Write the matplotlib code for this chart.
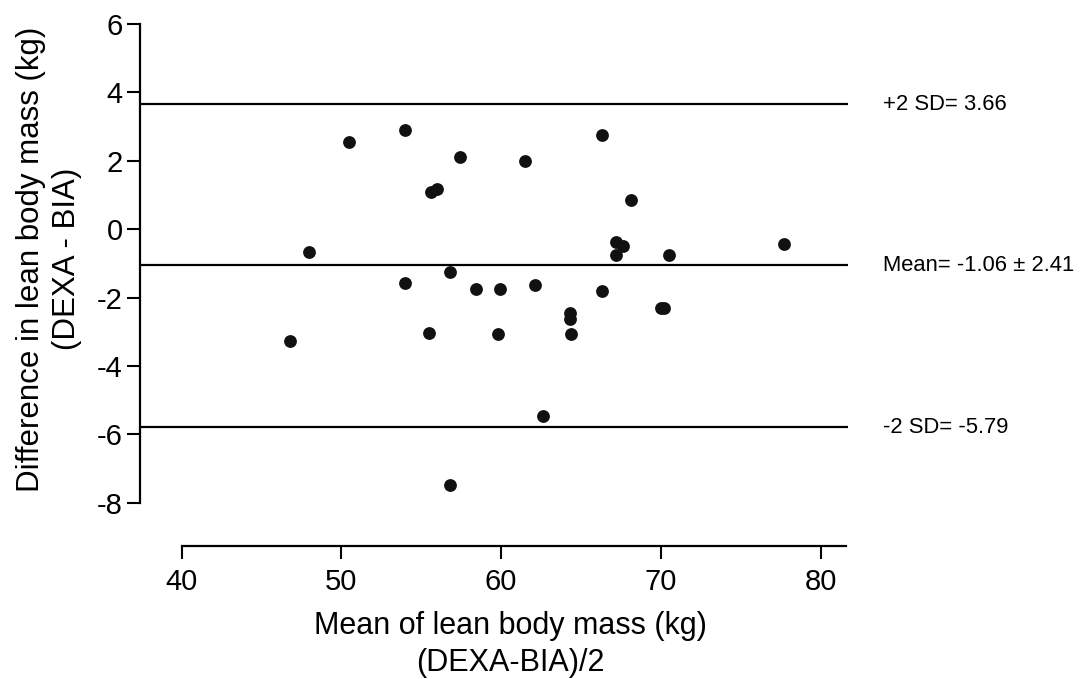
import matplotlib
matplotlib.use("Agg")
import matplotlib.pyplot as plt
import matplotlib.transforms as mtransforms

plt.rcParams['font.family'] = ['Liberation Sans', 'DejaVu Sans']
plt.rcParams['axes.unicode_minus'] = False

# mean of the two methods (kg) and their difference DEXA - BIA (kg)
mean_lbm = [46.8, 48.0, 50.5, 54.0, 57.4, 55.6, 56.0, 61.5, 66.3, 68.1,
            67.2, 67.6, 67.2, 70.5, 77.7, 56.8, 54.0, 58.4, 59.9, 62.1,
            66.3, 70.0, 70.2, 64.3, 64.3, 55.5, 59.8, 64.4, 62.6, 56.8]
diff_lbm = [-3.27, -0.66, 2.55, 2.91, 2.10, 1.09, 1.19, 1.98, 2.74, 0.85,
            -0.36, -0.49, -0.75, -0.74, -0.44, -1.25, -1.58, -1.76, -1.75, -1.62,
            -1.80, -2.30, -2.30, -2.45, -2.61, -3.04, -3.05, -3.07, -5.47, -7.47]

mean_diff = -1.06
sd_diff = 2.41
upper_loa = 3.66
lower_loa = -5.79

x_ticks = [40, 50, 60, 70, 80]
y_ticks = [-8, -6, -4, -2, 0, 2, 4, 6]

W, H = 1087, 679
fig = plt.figure(figsize=(W / 100, H / 100), dpi=100)
ax = fig.add_axes([0.1288, 0.1959, 0.6513, 0.7688])

ax.scatter(mean_lbm, diff_lbm, s=85, color='#111111', zorder=3, linewidths=0)

for val in (upper_loa, mean_diff, lower_loa):
    ax.axhline(val, color='black', lw=1.6, zorder=2)

ax.set_xlim(37.4, 81.7)
ax.set_ylim(-9.26, 6.0)
ax.set_xticks(x_ticks)
ax.set_yticks(y_ticks)

for side in ('top', 'right'):
    ax.spines[side].set_visible(False)
ax.spines['left'].set_bounds(-8, 6)
ax.spines['bottom'].set_bounds(40, 81.55)
for side in ('left', 'bottom'):
    ax.spines[side].set_linewidth(1.6)

ax.tick_params(axis='y', direction='out', length=9.4, width=1.5, labelsize=21, pad=3)
ax.tick_params(axis='x', direction='out', length=9.4, width=1.5, labelsize=21, pad=6.5)

# limits of agreement labels, to the right of the plotting area
trans = mtransforms.blended_transform_factory(ax.transAxes, ax.transData)
loa_labels = [(upper_loa, '+2 SD= 3.66'),
              (mean_diff, 'Mean= -1.06 \u00b1 2.41'),
              (lower_loa, '-2 SD= -5.79')]
for val, label in loa_labels:
    ax.text(1.049, val, label, transform=trans, ha='left', va='center',
            fontsize=15.8, clip_on=False)

fig.text(510 / W, 1 - 634 / H, 'Mean of lean body mass (kg)', ha='center',
         va='baseline', fontsize=22)
fig.text(510 / W, 1 - 671 / H, '(DEXA-BIA)/2', ha='center', va='baseline',
         fontsize=22)
fig.text(39 / W, 1 - 259 / H, 'Difference in lean body mass (kg)', rotation=90,
         rotation_mode='anchor', ha='center', va='baseline', fontsize=22.5)
fig.text(75 / W, 1 - 259 / H, '(DEXA - BIA)', rotation=90, rotation_mode='anchor',
         ha='center', va='baseline', fontsize=22.5)

fig.savefig('out.png', dpi=100)
